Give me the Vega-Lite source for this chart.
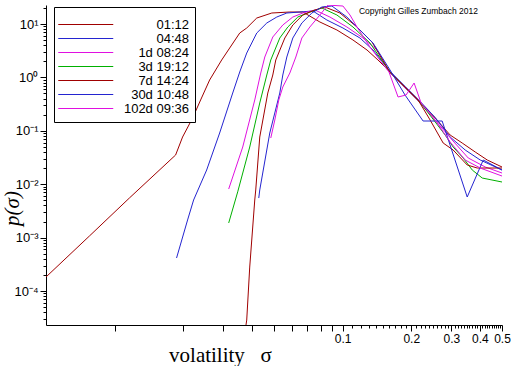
{
  "$schema": "https://vega.github.io/schema/vega-lite/v6.json",
  "width": 456,
  "height": 320,
  "autosize": {"type": "none"},
  "padding": {"left": 46, "top": 5, "right": 10, "bottom": 41},
  "background": "white",
  "title": {"text": "Copyright Gilles Zumbach 2012", "anchor": "end", "frame": "group", "offset": -14, "dx": -24, "fontSize": 8.5, "font": "Liberation Sans", "fontWeight": "normal", "color": "black"},
  "data": {"values": [
    {"s":"01:12","x":0.005,"y":0.000183},{"s":"01:12","x":0.00775,"y":0.00107},{"s":"01:12","x":0.01161,"y":0.00552},{"s":"01:12","x":0.01851,"y":0.0352},{"s":"01:12","x":0.01986,"y":0.0765},{"s":"01:12","x":0.02198,"y":0.174},{"s":"01:12","x":0.02383,"y":0.378},{"s":"01:12","x":0.0261,"y":0.894},{"s":"01:12","x":0.02948,"y":2.12},{"s":"01:12","x":0.03196,"y":3.55},{"s":"01:12","x":0.03537,"y":6.78},{"s":"01:12","x":0.03796,"y":8.42},{"s":"01:12","x":0.04201,"y":12.95},{"s":"01:12","x":0.0489,"y":16.07},{"s":"01:12","x":0.05867,"y":16.78},{"s":"01:12","x":0.06692,"y":16.78},{"s":"01:12","x":0.07948,"y":10.9},{"s":"01:12","x":0.09438,"y":7.72},{"s":"01:12","x":0.111,"y":5.02},{"s":"01:12","x":0.1279,"y":3.26},{"s":"01:12","x":0.1429,"y":2.12},{"s":"01:12","x":0.1614,"y":1.262},{"s":"01:12","x":0.1878,"y":0.661},{"s":"01:12","x":0.2187,"y":0.346},{"s":"01:12","x":0.2545,"y":0.174},{"s":"01:12","x":0.2962,"y":0.0834},{"s":"01:12","x":0.3345,"y":0.0591},{"s":"01:12","x":0.3816,"y":0.0401},{"s":"01:12","x":0.4308,"y":0.0284},{"s":"01:12","x":0.5,"y":0.021},
    {"s":"04:48","x":0.01869,"y":0.000415},{"s":"04:48","x":0.02089,"y":0.00214},{"s":"04:48","x":0.0222,"y":0.00506},{"s":"04:48","x":0.02533,"y":0.01845},{"s":"04:48","x":0.02888,"y":0.091},{"s":"04:48","x":0.03295,"y":0.51},{"s":"04:48","x":0.03537,"y":1.262},{"s":"04:48","x":0.03796,"y":2.86},{"s":"04:48","x":0.04201,"y":6.78},{"s":"04:48","x":0.04649,"y":10.44},{"s":"04:48","x":0.05143,"y":13.52},{"s":"04:48","x":0.05691,"y":16.07},{"s":"04:48","x":0.06492,"y":16.78},{"s":"04:48","x":0.07404,"y":17.52},{"s":"04:48","x":0.08531,"y":11.88},{"s":"04:48","x":0.1003,"y":8.42},{"s":"04:48","x":0.1191,"y":5.47},{"s":"04:48","x":0.1359,"y":3.26},{"s":"04:48","x":0.1614,"y":1.3},{"s":"04:48","x":0.1878,"y":0.68},{"s":"04:48","x":0.2187,"y":0.355},{"s":"04:48","x":0.2545,"y":0.178},{"s":"04:48","x":0.2962,"y":0.0765},{"s":"04:48","x":0.3448,"y":0.0437},{"s":"04:48","x":0.4013,"y":0.0284},{"s":"04:48","x":0.5,"y":0.01845},
    {"s":"1d 08:24","x":0.03164,"y":0.00813},{"s":"1d 08:24","x":0.03646,"y":0.0497},{"s":"1d 08:24","x":0.04117,"y":0.378},{"s":"1d 08:24","x":0.04374,"y":1.209},{"s":"1d 08:24","x":0.04556,"y":2.41},{"s":"1d 08:24","x":0.04939,"y":5.71},{"s":"1d 08:24","x":0.05465,"y":9.58},{"s":"1d 08:24","x":0.06047,"y":13.52},{"s":"1d 08:24","x":0.06692,"y":16.07},{"s":"1d 08:24","x":0.07554,"y":18.29},{"s":"1d 08:24","x":0.08795,"y":13.52},{"s":"1d 08:24","x":0.1044,"y":8.79},{"s":"1d 08:24","x":0.1228,"y":5.47},{"s":"1d 08:24","x":0.1415,"y":3.26},{"s":"1d 08:24","x":0.1614,"y":1.22},{"s":"1d 08:24","x":0.1878,"y":0.633},{"s":"1d 08:24","x":0.2187,"y":0.332},{"s":"1d 08:24","x":0.2545,"y":0.159},{"s":"1d 08:24","x":0.3022,"y":0.0673},{"s":"1d 08:24","x":0.3555,"y":0.031},{"s":"1d 08:24","x":0.4222,"y":0.021},{"s":"1d 08:24","x":0.5,"y":0.0162},
    {"s":"3d 19:12","x":0.03164,"y":0.00188},{"s":"3d 19:12","x":0.03466,"y":0.0072},{"s":"3d 19:12","x":0.03913,"y":0.0497},{"s":"3d 19:12","x":0.0433,"y":0.332},{"s":"3d 19:12","x":0.04649,"y":1.109},{"s":"3d 19:12","x":0.0484,"y":2.12},{"s":"3d 19:12","x":0.05301,"y":5.47},{"s":"3d 19:12","x":0.05749,"y":8.79},{"s":"3d 19:12","x":0.06361,"y":13.52},{"s":"3d 19:12","x":0.07182,"y":16.78},{"s":"3d 19:12","x":0.0811,"y":19.94},{"s":"3d 19:12","x":0.09438,"y":14.74},{"s":"3d 19:12","x":0.111,"y":8.79},{"s":"3d 19:12","x":0.1318,"y":4.41},{"s":"3d 19:12","x":0.1614,"y":1.25},{"s":"3d 19:12","x":0.1878,"y":0.65},{"s":"3d 19:12","x":0.2187,"y":0.34},{"s":"3d 19:12","x":0.2469,"y":0.174},{"s":"3d 19:12","x":0.2817,"y":0.0834},{"s":"3d 19:12","x":0.3053,"y":0.0497},{"s":"3d 19:12","x":0.3379,"y":0.031},{"s":"3d 19:12","x":0.3702,"y":0.01845},{"s":"3d 19:12","x":0.4095,"y":0.01306},{"s":"3d 19:12","x":0.5,"y":0.011},
    {"s":"7d 14:24","x":0.03683,"y":0.0000121},{"s":"7d 14:24","x":0.03796,"y":0.0000286},{"s":"7d 14:24","x":0.03913,"y":0.000281},{"s":"7d 14:24","x":0.04117,"y":0.00506},{"s":"7d 14:24","x":0.04158,"y":0.0078},{"s":"7d 14:24","x":0.0433,"y":0.0765},{"s":"7d 14:24","x":0.04696,"y":0.51},{"s":"7d 14:24","x":0.04939,"y":1.109},{"s":"7d 14:24","x":0.05091,"y":2.12},{"s":"7d 14:24","x":0.05577,"y":5.47},{"s":"7d 14:24","x":0.06047,"y":9.58},{"s":"7d 14:24","x":0.06692,"y":14.74},{"s":"7d 14:24","x":0.07554,"y":18.29},{"s":"7d 14:24","x":0.0836,"y":20.82},{"s":"7d 14:24","x":0.0973,"y":16.07},{"s":"7d 14:24","x":0.1156,"y":8.79},{"s":"7d 14:24","x":0.1345,"y":4.6},{"s":"7d 14:24","x":0.1614,"y":1.24},{"s":"7d 14:24","x":0.1878,"y":0.66},{"s":"7d 14:24","x":0.2143,"y":0.378},{"s":"7d 14:24","x":0.242,"y":0.159},{"s":"7d 14:24","x":0.276,"y":0.0591},{"s":"7d 14:24","x":0.3053,"y":0.0437},{"s":"7d 14:24","x":0.3519,"y":0.0229},{"s":"7d 14:24","x":0.3893,"y":0.0201},{"s":"7d 14:24","x":0.5,"y":0.0201},
    {"s":"30d 10:48","x":0.04287,"y":0.00551},{"s":"30d 10:48","x":0.0433,"y":0.0078},{"s":"30d 10:48","x":0.04791,"y":0.091},{"s":"30d 10:48","x":0.05301,"y":0.51},{"s":"30d 10:48","x":0.05465,"y":1.109},{"s":"30d 10:48","x":0.05691,"y":2.41},{"s":"30d 10:48","x":0.06047,"y":5.47},{"s":"30d 10:48","x":0.06624,"y":10.44},{"s":"30d 10:48","x":0.07329,"y":16.07},{"s":"30d 10:48","x":0.0811,"y":20.82},{"s":"30d 10:48","x":0.08975,"y":21.74},{"s":"30d 10:48","x":0.1044,"y":13.52},{"s":"30d 10:48","x":0.1191,"y":7.72},{"s":"30d 10:48","x":0.1359,"y":4.41},{"s":"30d 10:48","x":0.1614,"y":1.376},{"s":"30d 10:48","x":0.1878,"y":0.468},{"s":"30d 10:48","x":0.2254,"y":0.1526},{"s":"30d 10:48","x":0.2732,"y":0.1526},{"s":"30d 10:48","x":0.3519,"y":0.00576},{"s":"30d 10:48","x":0.4137,"y":0.0284},{"s":"30d 10:48","x":0.5,"y":0.01845},
    {"s":"102d 09:36","x":0.0484,"y":0.0733},{"s":"102d 09:36","x":0.0504,"y":0.159},{"s":"102d 09:36","x":0.05248,"y":0.378},{"s":"102d 09:36","x":0.05465,"y":0.661},{"s":"102d 09:36","x":0.05867,"y":1.209},{"s":"102d 09:36","x":0.06234,"y":2.41},{"s":"102d 09:36","x":0.06624,"y":5.47},{"s":"102d 09:36","x":0.07182,"y":8.79},{"s":"102d 09:36","x":0.07948,"y":14.74},{"s":"102d 09:36","x":0.08618,"y":22.6},{"s":"102d 09:36","x":0.1003,"y":21.74},{"s":"102d 09:36","x":0.1077,"y":14.74},{"s":"102d 09:36","x":0.1156,"y":8.79},{"s":"102d 09:36","x":0.1318,"y":3.71},{"s":"102d 09:36","x":0.1597,"y":1.262},{"s":"102d 09:36","x":0.175,"y":0.43},{"s":"102d 09:36","x":0.1897,"y":0.468},{"s":"102d 09:36","x":0.2058,"y":0.785},{"s":"102d 09:36","x":0.2209,"y":0.332},{"s":"102d 09:36","x":0.2545,"y":0.159},{"s":"102d 09:36","x":0.2962,"y":0.0617},{"s":"102d 09:36","x":0.3448,"y":0.0284},{"s":"102d 09:36","x":0.4013,"y":0.0201},{"s":"102d 09:36","x":0.5,"y":0.01424}
  ]},
  "mark": {"type": "line", "strokeWidth": 1, "clip": true},
  "encoding": {
    "x": {
      "field": "x", "type": "quantitative",
      "scale": {"type": "log", "domain": [0.005, 0.5], "nice": false},
      "axis": {
        "values": [0.01,0.02,0.03,0.04,0.05,0.06,0.07,0.08,0.09,0.1,0.11,0.12,0.13,0.14,0.15,0.16,0.17,0.18,0.19,0.2,0.21,0.22,0.23,0.24,0.25,0.26,0.27,0.28,0.29,0.3,0.31,0.32,0.33,0.34,0.35,0.36,0.37,0.38,0.39,0.4,0.41,0.42,0.43,0.44,0.45,0.46,0.47,0.48,0.49,0.5],
        "labelExpr": "datum.value >= 0.0999 && abs(datum.value*10 - round(datum.value*10)) < 0.001 ? format(datum.value, '.1f') : ''",
        "tickSize": {"condition": {"test": "datum.value < 0.0999 || abs(datum.value*10 - round(datum.value*10)) < 0.001", "value": 6}, "value": 3},
        "labelOverlap": false, "labelFlush": false,
        "labelFont": "Liberation Sans", "labelFontSize": 12, "labelPadding": 2, "labelColor": "black",
        "domainColor": "black", "tickColor": "black", "grid": false,
        "title": "volatility\u00a0\u00a0\u00a0σ",
        "titleFont": "Liberation Serif", "titleFontSize": 21, "titleFontWeight": "normal", "titleColor": "black",
        "titleX": 174, "titleY": 36, "titleAlign": "center", "titleBaseline": "alphabetic"
      }
    },
    "y": {
      "field": "y", "type": "quantitative",
      "scale": {"type": "log", "domain": [0.0000231, 22.7], "nice": false},
      "axis": {
        "values": [0.00003,0.00004,0.00005,0.00006,0.00007,0.00008,0.00009,0.0001,0.0002,0.0003,0.0004,0.0005,0.0006,0.0007,0.0008,0.0009,0.001,0.002,0.003,0.004,0.005,0.006,0.007,0.008,0.009,0.01,0.02,0.03,0.04,0.05,0.06,0.07,0.08,0.09,0.1,0.2,0.3,0.4,0.5,0.6,0.7,0.8,0.9,1,2,3,4,5,6,7,8,9,10,20],
        "labelExpr": "abs(log(datum.value)/LN10 - round(log(datum.value)/LN10)) < 0.001 ? ['10⁻⁴','10⁻³','10⁻²','10⁻¹','10⁰','10¹'][round(log(datum.value)/LN10)+4] : ''",
        "tickSize": {"condition": {"test": "abs(log(datum.value)/LN10 - round(log(datum.value)/LN10)) < 0.001", "value": 6}, "value": 3},
        "labelOverlap": false, "labelFlush": false,
        "labelFont": "Liberation Sans", "labelFontSize": 13, "labelPadding": 2, "labelColor": "black",
        "domainColor": "black", "tickColor": "black", "grid": false,
        "title": "p(σ)",
        "titleFont": "Liberation Serif", "titleFontSize": 21, "titleFontWeight": "normal", "titleFontStyle": "italic", "titleColor": "black",
        "titleX": -34, "titleY": 203, "titleAlign": "center", "titleBaseline": "middle", "titleAngle": -90
      }
    },
    "color": {
      "field": "s", "type": "nominal",
      "sort": ["01:12","04:48","1d 08:24","3d 19:12","7d 14:24","30d 10:48","102d 09:36"],
      "scale": {
        "domain": ["01:12","04:48","1d 08:24","3d 19:12","7d 14:24","30d 10:48","102d 09:36"],
        "range": ["#a00000","#2424d0","#e010e0","#00b000","#a00000","#2424d0","#e010e0"]
      },
      "legend": {
        "orient": "none", "legendX": 8, "legendY": 2,
        "title": " ", "titleFontSize": 5, "titlePadding": 0,
        "strokeColor": "black", "fillColor": "white", "padding": 6,
        "symbolType": "M-1.5,0L8.5,0", "symbolSize": 121, "symbolStrokeWidth": 1,
        "labelFont": "Liberation Sans", "labelFontSize": 13, "labelColor": "black",
        "labelAlign": "right", "labelOffset": 116, "rowPadding": 0, "labelLimit": 200,
        "encode": {"symbols": {
          "enter": {"stroke": {"scale": "color", "field": "value"}, "fill": {"value": "transparent"}},
          "update": {"stroke": {"scale": "color", "field": "value"}, "fill": {"value": "transparent"}}
        }}
      }
    }
  },
  "config": {"view": {"stroke": null}}
}
